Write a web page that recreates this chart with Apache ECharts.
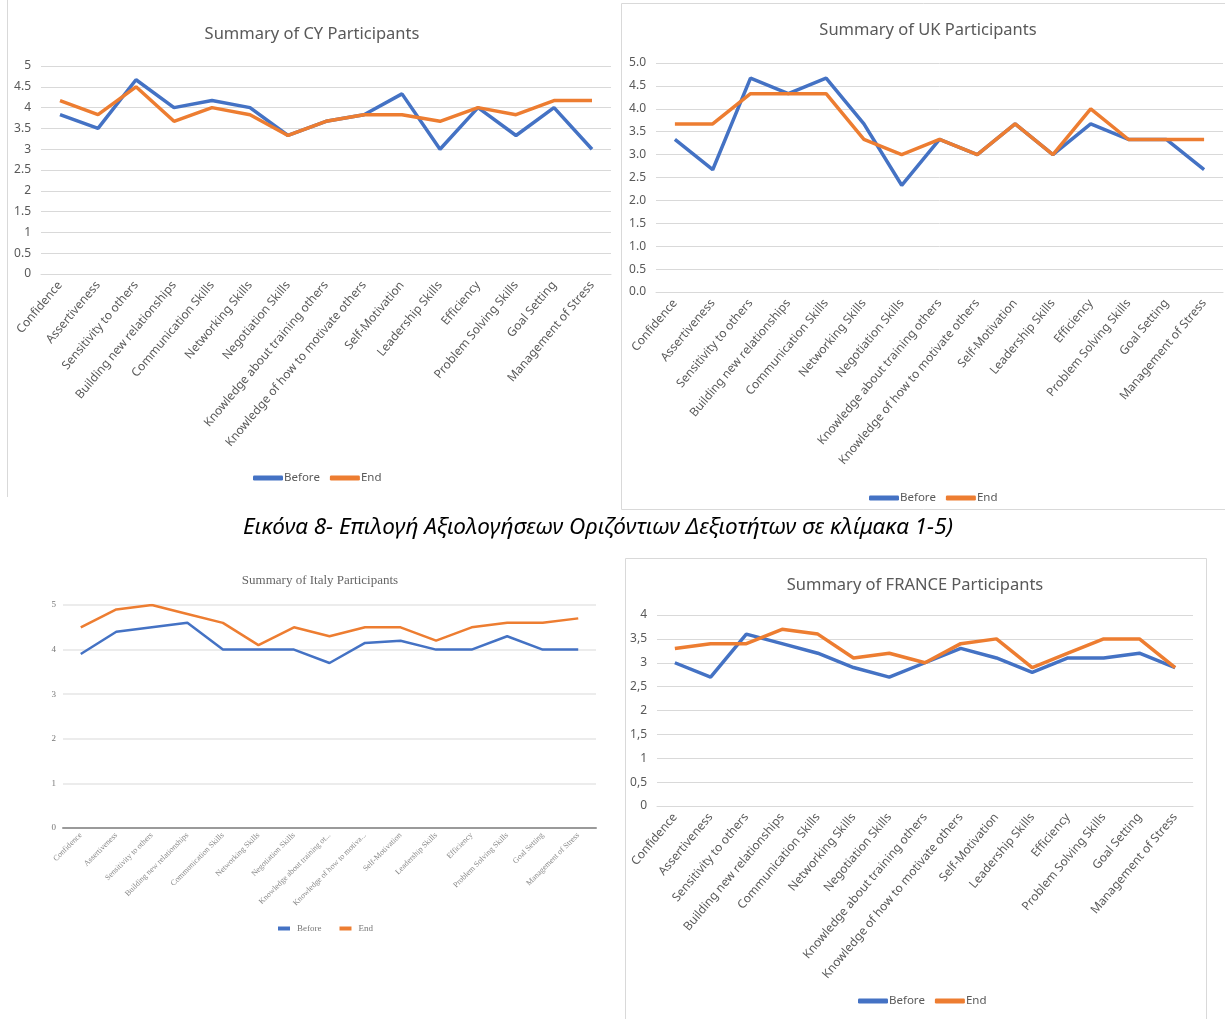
<!DOCTYPE html>
<html>
<head>
<meta charset="utf-8">
<script src="https://cdn.jsdelivr.net/npm/echarts@6/dist/echarts.min.js"></script>
<style>
  html, body { margin: 0; padding: 0; background: #fff; }
  #main { width: 1225px; height: 1019px; }
</style>
</head>
<body>
<div id="main"></div>
<script>
const skills = [
  "Confidence", "Assertiveness", "Sensitivity to others", "Building new relationships",
  "Communication Skills", "Networking Skills", "Negotiation Skills",
  "Knowledge about training others", "Knowledge of how to motivate others",
  "Self-Motivation", "Leadership Skills", "Efficiency", "Problem Solving Skills",
  "Goal Setting", "Management of Stress"
];

const cyBefore = [3.83, 3.5, 4.67, 4.0, 4.17, 4.0, 3.33, 3.67, 3.83, 4.33, 3.0, 4.0, 3.33, 4.0, 3.0];
const cyEnd = [4.17, 3.83, 4.5, 3.67, 4.0, 3.83, 3.33, 3.67, 3.83, 3.83, 3.67, 4.0, 3.83, 4.17, 4.17];

const ukBefore = [3.33, 2.67, 4.67, 4.33, 4.67, 3.67, 2.33, 3.33, 3.0, 3.67, 3.0, 3.67, 3.33, 3.33, 2.67];
const ukEnd = [3.67, 3.67, 4.33, 4.33, 4.33, 3.33, 3.0, 3.33, 3.0, 3.67, 3.0, 4.0, 3.33, 3.33, 3.33];

const itBefore = [3.9, 4.4, 4.5, 4.6, 4.0, 4.0, 4.0, 3.7, 4.15, 4.2, 4.0, 4.0, 4.3, 4.0, 4.0];
const itEnd = [4.5, 4.9, 5.0, 4.8, 4.6, 4.1, 4.5, 4.3, 4.5, 4.5, 4.2, 4.5, 4.6, 4.6, 4.7];

const frBefore = [3.0, 2.7, 3.6, 3.4, 3.2, 2.9, 2.7, 3.0, 3.3, 3.1, 2.8, 3.1, 3.1, 3.2, 2.9];
const frEnd = [3.3, 3.4, 3.4, 3.7, 3.6, 3.1, 3.2, 3.0, 3.4, 3.5, 2.9, 3.2, 3.5, 3.5, 2.9];

const titles = ["Summary of CY Participants", "Summary of UK Participants",
                "Summary of Italy Participants", "Summary of FRANCE Participants"];
const caption = "Εικόνα 8- Επιλογή Αξιολογήσεων Οριζόντιων Δεξιοτήτων σε κλίμακα 1-5)";

const BLUE = "#4472C4";
const ORANGE = "#ED7D31";
const GREY = "#595959";
const XL = "'Noto Sans', sans-serif";
const SERIF = "'Liberation Serif', serif";

const chart = echarts.init(document.getElementById("main"));

// one grid per panel: CY, UK, Italy, France
const grids = [
  { left: 41, top: 66, width: 570, height: 208 },
  { left: 656, top: 63, width: 567, height: 229 },
  { left: 63, top: 605, width: 533, height: 223 },
  { left: 657, top: 615, width: 536, height: 191 },
];

const xAxis = grids.map((g, i) => {
  const italy = i === 2;
  return {
    type: "category",
    gridIndex: i,
    data: skills,
    boundaryGap: true,
    axisTick: { show: false },
    axisLine: italy
      ? { show: true, lineStyle: { color: "#9a9a9a", width: 2 } }
      : { show: true, lineStyle: { color: "#d9d9d9", width: 1 } },
    axisLabel: italy
      ? { interval: 0, rotate: 45, margin: 6, fontSize: 8, color: "#8a8a8a", fontFamily: SERIF,
          width: 102, overflow: "truncate", ellipsis: "..." }
      : { interval: 0, rotate: 50, margin: 9, fontSize: 12, color: GREY, fontFamily: XL },
  };
});

const yAxis = [
  { min: 0, max: 5, interval: 0.5, fmt: (v) => String(v) },
  { min: 0, max: 5, interval: 0.5, fmt: (v) => v.toFixed(1) },
  { min: 0, max: 5, interval: 1, fmt: (v) => String(v) },
  { min: 0, max: 4, interval: 0.5, fmt: (v) => String(v).replace(".", ",") },
].map((a, i) => {
  const italy = i === 2;
  return {
    type: "value",
    gridIndex: i,
    min: a.min,
    max: a.max,
    interval: a.interval,
    axisLine: { show: false },
    axisTick: { show: false },
    splitLine: { lineStyle: { color: italy ? "#e6e6e6" : "#d9d9d9", width: italy ? 1.5 : 1 } },
    axisLabel: {
      formatter: a.fmt,
      margin: italy ? 7 : 10,
      fontSize: italy ? 9 : 12,
      color: italy ? "#777" : GREY,
      fontFamily: italy ? SERIF : XL,
    },
  };
});

const pairs = [[cyBefore, cyEnd], [ukBefore, ukEnd], [itBefore, itEnd], [frBefore, frEnd]];
const series = [];
pairs.forEach(([b, e], i) => {
  const w = i === 2 ? 2.5 : 3.5;
  series.push({ name: "Before", type: "line", xAxisIndex: i, yAxisIndex: i, data: b,
    symbol: "none", lineStyle: { color: BLUE, width: w }, itemStyle: { color: BLUE }, z: 2 });
  series.push({ name: "End", type: "line", xAxisIndex: i, yAxisIndex: i, data: e,
    symbol: "none", lineStyle: { color: ORANGE, width: w }, itemStyle: { color: ORANGE }, z: 3 });
});

const lineLegend = (left, top) => ({
  left, top, padding: 0, selectedMode: false, data: ["Before", "End"],
  icon: "roundRect", itemWidth: 30, itemHeight: 5, itemGap: 10,
  textStyle: { color: GREY, fontSize: 11.5, fontFamily: XL, padding: [0, 0, 0, -4] },
});

const legend = [
  lineLegend(253, 472),
  lineLegend(869, 492),
  { left: 273, top: 919, selectedMode: false, data: ["Before", "End"],
    icon: "rect", itemWidth: 12, itemHeight: 4, itemGap: 18,
    textStyle: { color: "#777", fontSize: 9, fontFamily: SERIF, padding: [0, 0, 0, 2] } },
  lineLegend(858, 995),
];

const titlePos = [[312, 34, 16.5], [928, 30, 16.5], [320, 581, 13], [915, 585, 16.5]];
const graphic = [
  // panel frames
  { type: "line", shape: { x1: 7.5, y1: 0, x2: 7.5, y2: 497 }, style: { stroke: "#d9d9d9", lineWidth: 1 } },
  { type: "rect", shape: { x: 621.5, y: 3.5, width: 620, height: 506 }, style: { fill: null, stroke: "#d9d9d9", lineWidth: 1 } },
  { type: "rect", shape: { x: 625.5, y: 558.5, width: 581, height: 480 }, style: { fill: null, stroke: "#d9d9d9", lineWidth: 1 } },
];
titlePos.forEach(([x, y, fs], i) => {
  graphic.push({
    type: "text", x, y,
    style: { text: titles[i], fill: i === 2 ? "#666" : GREY, fontSize: fs,
      fontFamily: i === 2 ? SERIF : XL, align: "center", verticalAlign: "middle" },
  });
});
graphic.push({
  type: "text", x: 598, y: 528,
  style: { text: caption, fill: "#000", fontSize: 22.5, fontStyle: "italic",
    fontFamily: "'Noto Sans', sans-serif", align: "center", verticalAlign: "middle" },
});

chart.setOption({
  animation: false,
  grid: grids,
  xAxis,
  yAxis,
  legend,
  graphic,
  series,
});
</script>
</body>
</html>
